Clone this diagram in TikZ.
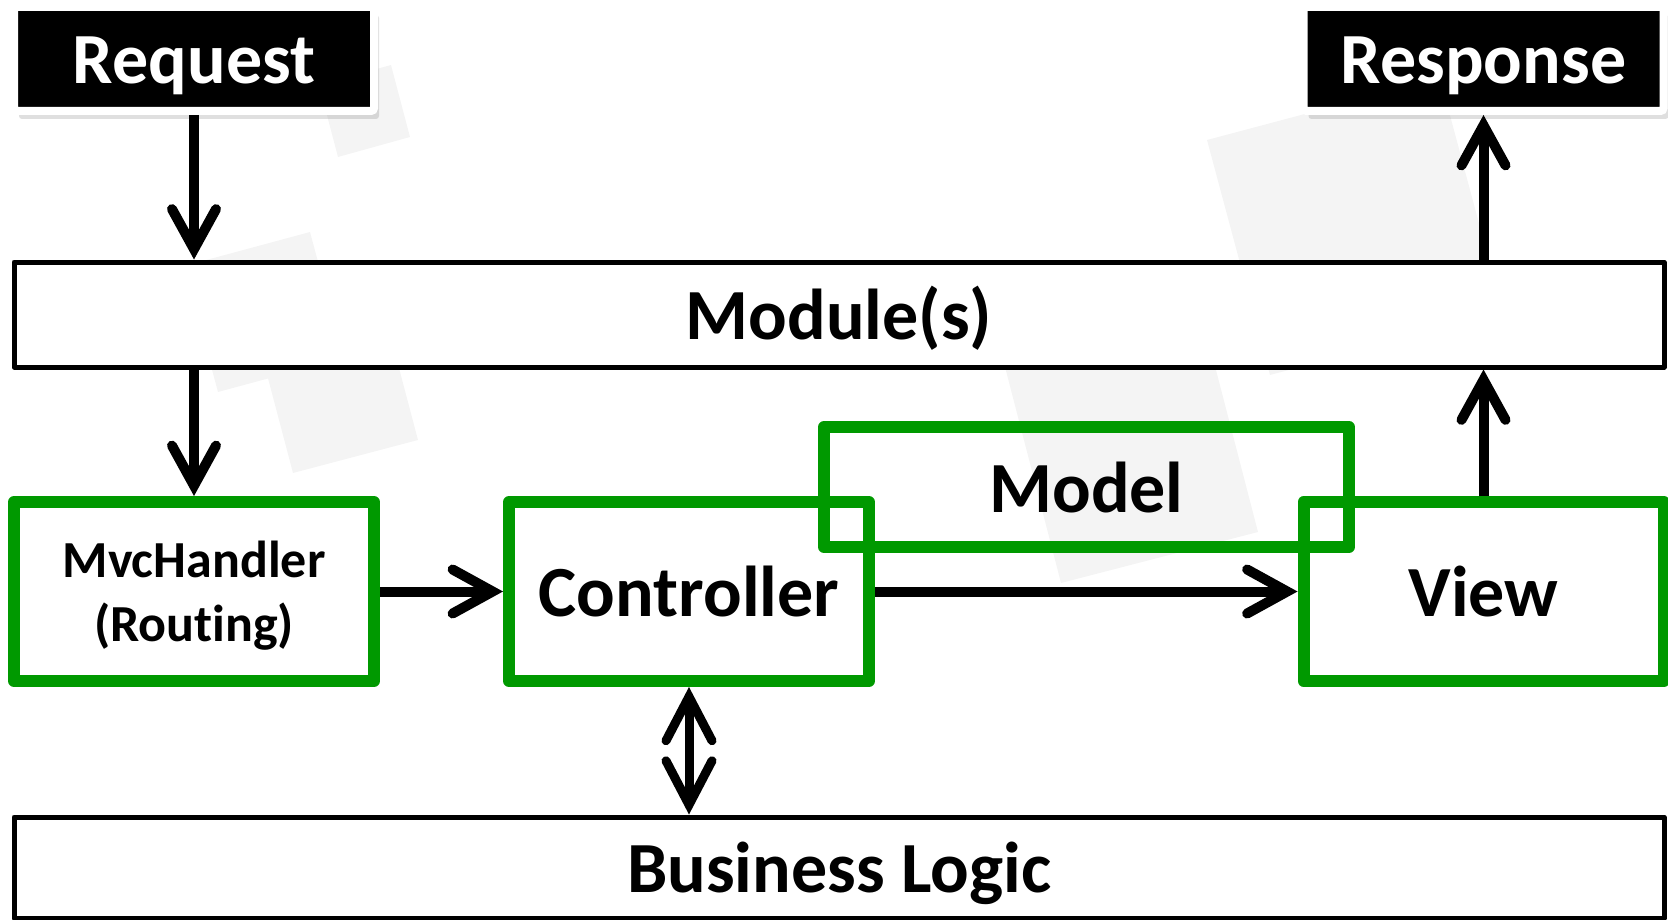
\documentclass[tikz,border=0pt]{standalone}
\usepackage{fontspec}
\setmainfont{Carlito}[Ligatures=NoCommon]
\usetikzlibrary{arrows.meta,shadows}

\definecolor{mvcgreen}{RGB}{0,153,0}
\definecolor{markgray}{RGB}{244,244,244}

\begin{document}
\begin{tikzpicture}[x=1pt,y=-1pt,
  big/.style={font=\fontsize{72}{80}\selectfont\bfseries,text height=50pt,text depth=0pt},
  arr/.style={line width=10pt,-{Straight Barb[length=40pt,width=44pt,line cap=round,line join=miter]}},
  dblarr/.style={line width=9pt,{Straight Barb[length=44pt,width=46pt,line cap=round,line join=miter]}-{Straight Barb[length=44pt,width=46pt,line cap=round,line join=miter]}}
]

\useasboundingbox (0,0) rectangle (1668,920);

% faint squares behind
\fill[markgray] (338,157) -- (410,137) -- (391,65) -- (319,85) -- cycle;
\fill[markgray] (218,392) -- (344,358) -- (310,232) -- (184,266) -- cycle;
\fill[markgray] (293,473) -- (418,440) -- (385,315) -- (260,348) -- cycle;
\fill[markgray] (1207,140) -- (1440,78) -- (1503,313) -- (1270,375) -- cycle;
\fill[markgray] (1061,583) -- (1258,532) -- (1202,316) -- (1005,367) -- cycle;

\begin{scope}[every node/.style={big,fill=black,text=white,draw=white,line width=8pt,
  rounded corners=3pt,inner sep=0pt,minimum width=360pt,minimum height=104pt,
  drop shadow={shadow xshift=5pt,shadow yshift=-8pt,opacity=.25}}]
\node(req) at(194,59) {Request};
\node(resp) at(1483.5,59) {Response};
\end{scope}

\begin{scope}[every node/.style={big,draw=black,fill=white,line width=5pt,line join=round,
  inner sep=0pt,minimum width=1650pt}]
\node[minimum height=105pt](mod) at(839,314.5) {Module(s)};
\node[minimum height=101pt](biz) at(839,867.5) {Business Logic};
\end{scope}

\begin{scope}[every node/.style={big,draw=mvcgreen,line width=12pt,line join=round,
  inner sep=0pt,minimum width=360pt,minimum height=179pt}]
\node[font=\fontsize{52}{64}\selectfont\bfseries,align=center,text height=,text depth=0pt](mvc) at(194,591.5) {MvcHandler\\(Routing)};
\node(ctrl) at(689,591.5) {Controller};
\node(view) at(1483.5,591.5) {View};
\node[minimum width=525pt,minimum height=120pt](model) at(1086.5,487) {Model};
\end{scope}

\draw[arr] (req.south) -- (req.south |- mod.north);
\draw[arr] (mod.south -| mvc.north) -- (mvc.north);
\draw[arr] (mvc.east) -- (ctrl.west);
\draw[arr] (ctrl.east) -- (view.west);
\draw[arr] (view.north) -- (view.north |- mod.south);
\draw[arr] (mod.north -| resp.south) -- (resp.south);
\draw[dblarr] (ctrl.south) -- (ctrl.south |- biz.north);

\end{tikzpicture}
\end{document}
